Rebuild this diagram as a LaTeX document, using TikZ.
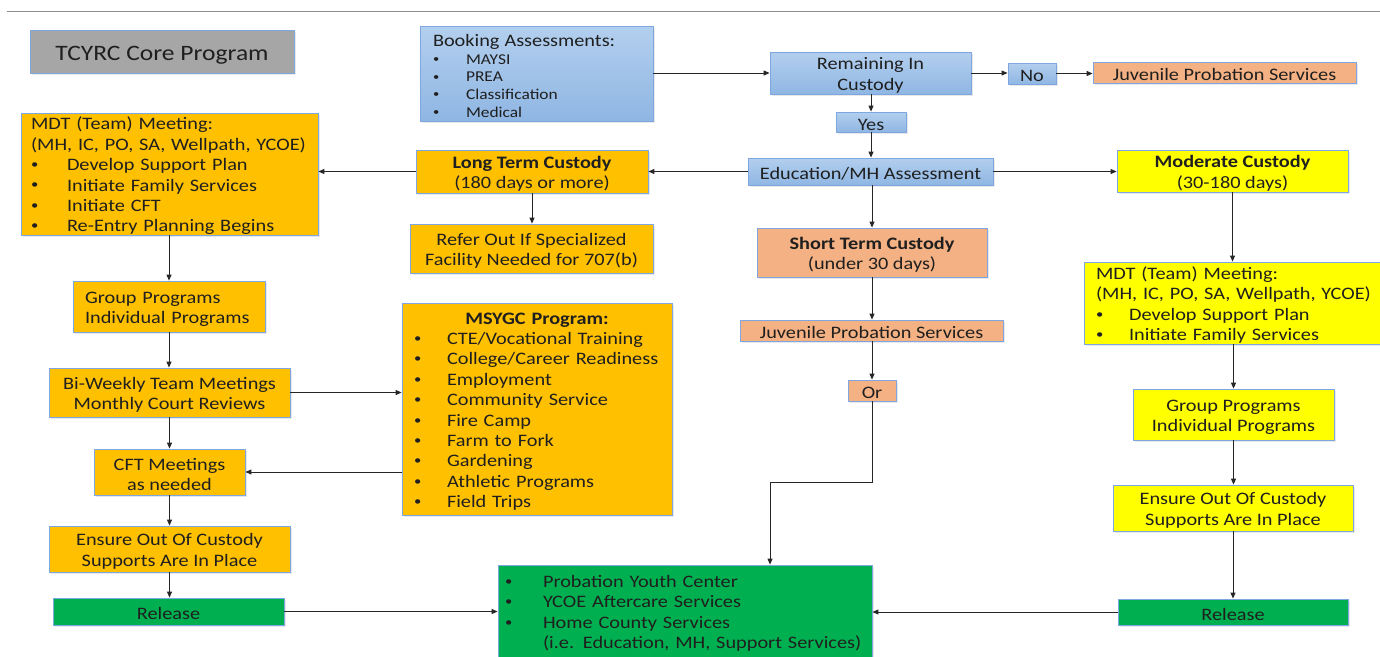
\documentclass[tikz,border=0pt]{standalone}
\usepackage{fontspec}
\setmainfont{Carlito}[FakeStretch=1.16]
\usetikzlibrary{arrows.meta,shadows}
\definecolor{bord}{HTML}{7EA6E0}
\definecolor{grayfill}{HTML}{A6A6A6}
\definecolor{blueT}{HTML}{B3CFEE}
\definecolor{blueB}{HTML}{8FB6E3}
\definecolor{goldfill}{HTML}{FFC000}
\definecolor{salmonfill}{HTML}{F4B183}
\definecolor{yellowfill}{HTML}{FFFF00}
\definecolor{greenfill}{HTML}{00B050}
\definecolor{topline}{HTML}{8C8C8C}
\newcommand\fs{\fontsize{17.5}{20.4}\selectfont}
\newcommand\st{\rule{0pt}{16.8pt}}
\newcommand\bdot{\raisebox{0.12em}{\scalebox{0.72}{•}}}
\newcommand\bl[1]{\makebox[33pt][l]{\bdot}#1}
\begin{document}
\begin{tikzpicture}[x=1pt,y=-1pt,
  box/.style={draw=bord, line width=0.8pt, inner sep=0pt, font=\fs, text=black!88,
    align=center, execute at begin node={\st},
    drop shadow={opacity=0.18, shadow xshift=1.5pt, shadow yshift=-1.5pt}},
  bx/.style 2 args={minimum width=#1pt, minimum height=#2pt},
  lft/.style={align=left, inner xsep=12pt, inner ysep=0pt},
  bluebox/.style={box, top color=blueT, bottom color=blueB},
  goldbox/.style={box, fill=goldfill},
  salbox/.style={box, fill=salmonfill},
  yelbox/.style={box, fill=yellowfill},
  grnbox/.style={box, fill=greenfill},
  arr/.style={-{Triangle[length=6pt,width=5pt]}, line width=1pt, draw=black!85}
]
\useasboundingbox (0,0) rectangle (1380,656);
\draw[topline, line width=0.8pt] (7,11) -- (1380,11);

% nodes
\node[box, bx={264}{43}, fill=grayfill, font=\fontsize{22}{26}\selectfont,
  execute at begin node={\rule{0pt}{22pt}}] (title) at (162,51.5) {TCYRC Core Program};

\node[bluebox, bx={233}{95}, lft, inner xsep=13pt, text width=207pt, font=\fontsize{15}{17.7}\selectfont] (booking) at (536.5,73.5)
  {{\fontsize{17.5}{17.7}\selectfont Booking Assessments:}\\
   \bl{MAYSI}\\ \bl{PREA}\\ \bl{Classification}\\ \bl{Medical}};

\node[bluebox, bx={201}{42}] (remain) at (870.5,73) {\st Remaining In\\Custody};
\node[bluebox, bx={48}{21}] (no) at (1032,73.5) {No};
\node[salbox, bx={263}{21}] (jps1) at (1224.5,72.5) {Juvenile Probation Services};
\node[bluebox, bx={70}{20}] (yes) at (871,122) {Yes};
\node[bluebox, bx={245}{27}] (edu) at (870.5,171.5) {Education/MH Assessment};

\node[goldbox, bx={232}{43}] (long) at (532,171.5) {\st\textbf{Long Term Custody}\\(180 days or more)};
\node[goldbox, bx={243}{49}] (refer) at (531.5,248.5) {\st Refer Out If Specialized\\Facility Needed for 707(b)};
\node[salbox, bx={230}{49}] (short) at (872,252.5) {\st\textbf{Short Term Custody}\\(under 30 days)};
\node[yelbox, bx={231}{42}] (moderate) at (1232.5,171) {\st\textbf{Moderate Custody}\\(30-180 days)};

\node[goldbox, bx={297}{122}, lft, inner xsep=10pt, text width=277pt] (mdtL) at (169.5,174)
  {MDT (Team) Meeting:\\\mbox{(MH, IC, PO, SA, Wellpath, YCOE)}\\
   \makebox[36pt][l]{\bdot}Develop Support Plan\\ \makebox[36pt][l]{\bdot}Initiate Family Services\\
   \makebox[36pt][l]{\bdot}Initiate CFT\\ \makebox[36pt][l]{\bdot}Re-Entry Planning Begins};
\node[goldbox, bx={192}{51}, lft, text width=168pt] (grpL) at (169,306.5) {Group Programs\\Individual Programs};
\node[goldbox, bx={241}{49}] (bi) at (169.5,392.5) {\st Bi-Weekly Team Meetings\\Monthly Court Reviews};
\node[goldbox, bx={151}{46}] (cft) at (169.5,472) {\st CFT Meetings\\as needed};
\node[goldbox, bx={241}{46}] (ensL) at (169.5,549) {\st Ensure Out Of Custody\\Supports Are In Place};
\node[grnbox, bx={231}{27}] (relL) at (168.5,611.5) {Release};

\node[goldbox, bx={270}{212}, lft, text width=246pt] (msygc) at (537,409)
  {\makebox[\linewidth]{\textbf{MSYGC Program:}}\\
   \bl{CTE/Vocational Training}\\ \bl{College/Career Readiness}\\ \bl{Employment}\\
   \bl{Community Service}\\ \bl{Fire Camp}\\ \bl{Farm to Fork}\\ \bl{Gardening}\\
   \bl{Athletic Programs}\\ \bl{Field Trips}};

\node[salbox, bx={263}{21}] (jps2) at (871.5,330.5) {Juvenile Probation Services};
\node[salbox, bx={48}{21}] (or) at (872,390.5) {Or};

\node[grnbox, bx={374}{92}, lft, inner xsep=7pt, text width=360pt, font=\fontsize{17.5}{20.5}\selectfont] (green) at (685,611)
  {\makebox[38pt][l]{\bdot}Probation Youth Center\\ \makebox[38pt][l]{\bdot}YCOE Aftercare Services\\
   \makebox[38pt][l]{\bdot}Home County Services\\ \makebox[38pt][l]{}\mbox{(i.e. Education, MH, Support Services)}};

\node[yelbox, bx={300}{82}, lft, text width=276pt] (mdtR) at (1234,303)
  {MDT (Team) Meeting:\\\mbox{(MH, IC, PO, SA, Wellpath, YCOE)}\\
   \bl{Develop Support Plan}\\ \bl{Initiate Family Services}};
\node[yelbox, bx={201}{51}] (grpR) at (1233.5,414.5) {\st Group Programs\\Individual Programs};
\node[yelbox, bx={240}{46}] (ensR) at (1233,508) {\st Ensure Out Of Custody\\Supports Are In Place};
\node[grnbox, bx={230}{26}] (relR) at (1233,612) {Release};

\coordinate (bend) at (770,482);

% connectors
\draw[arr] (booking.east |- remain.west) -- (remain.west);
\draw[arr] (remain.east) -- (remain.east -| no.west);
\draw[arr] (no.east) -- (no.east -| jps1.west);
\draw[arr] (remain.south -| yes.north) -- (yes.north);
\draw[arr] (yes.south) -- (yes.south |- edu.north);
\draw[arr] (edu.west) -- (edu.west -| long.east);
\draw[arr] (edu.east) -- (edu.east -| moderate.west);
\draw[arr] (short.north |- edu.south) -- (short.north);
\draw[arr] (long.west) -- (long.west -| mdtL.east);
\draw[arr] (long.south) -- (long.south |- refer.north);
\draw[arr] (grpL.north |- mdtL.south) -- (grpL.north);
\draw[arr] (grpL.south) -- (grpL.south |- bi.north);
\draw[arr] (bi.south) -- (bi.south |- cft.north);
\draw[arr] (bi.east) -- (bi.east -| msygc.west);
\draw[arr] (msygc.west |- cft.east) -- (cft.east);
\draw[arr] (cft.south) -- (cft.south |- ensL.north);
\draw[arr] (ensL.south) -- (ensL.south |- relL.north);
\draw[arr] (relL.east) -- (relL.east -| green.west);
\draw[arr] (short.south) -- (short.south |- jps2.north);
\draw[arr] (jps2.south -| or.north) -- (or.north);
\draw[arr] (or.south) |- (bend) -- (bend |- green.north);
\draw[arr] (moderate.south) -- (moderate.south |- mdtR.north);
\draw[arr] (grpR.north |- mdtR.south) -- (grpR.north);
\draw[arr] (grpR.south) -- (grpR.south |- ensR.north);
\draw[arr] (ensR.south) -- (ensR.south |- relR.north);
\draw[arr] (relR.west) -- (relR.west -| green.east);
\end{tikzpicture}
\end{document}
